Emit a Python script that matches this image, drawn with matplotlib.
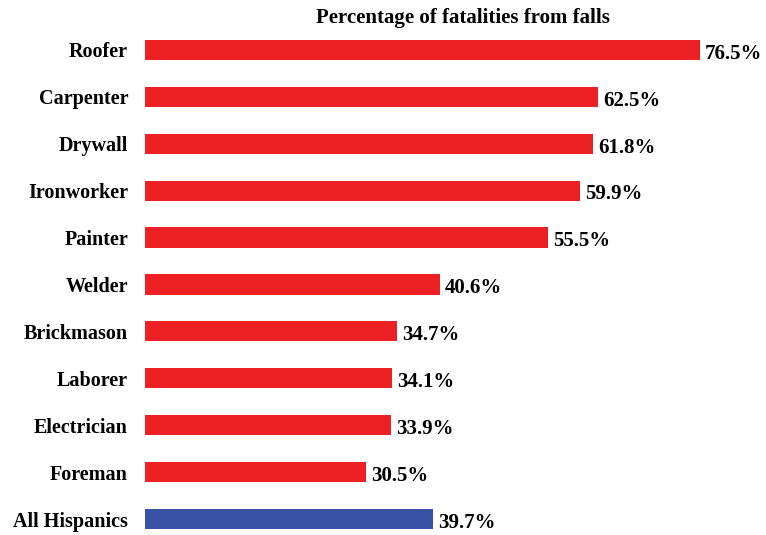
import matplotlib.pyplot as plt

# Data
occupations = ["Roofer", "Carpenter", "Drywall", "Ironworker", "Painter", "Welder",
               "Brickmason", "Laborer", "Electrician", "Foreman", "All Hispanics"]
pct_falls = [76.5, 62.5, 61.8, 59.9, 55.5, 40.6, 34.7, 34.1, 33.9, 30.5, 39.7]
bar_colors = ["#ED2024"] * 10 + ["#3953A4"]

plt.rcParams['font.family'] = ['Liberation Serif', 'DejaVu Serif']
plt.rcParams['font.weight'] = 'bold'

fig = plt.figure(figsize=(7.66, 5.35), dpi=100)
# axes: x from 145px to 760px, y from 26px to bottom
ax = fig.add_axes([145 / 766, 0.0, 615 / 766, 1 - 26 / 535])

ypos = list(range(len(occupations)))
ax.barh(ypos, pct_falls, height=0.43, color=bar_colors)
ax.set_xlim(0, 615 / 7.255)
ax.set_ylim(10.34, -0.51)

for y, v in zip(ypos, pct_falls):
    ax.text(v + 0.7, y + 0.08, f"{v:.1f}%", va="center", ha="left",
            fontsize=15, fontweight="bold")

ax.set_yticks(ypos)
ax.set_yticklabels(occupations, fontsize=14.5, fontweight="bold")
ax.tick_params(axis="y", length=0, pad=12.2)
ax.set_xticks([])
for s in ax.spines.values():
    s.set_visible(False)

fig.text(463 / 766, 1 - 18 / 535, "Percentage of fatalities from falls",
         ha="center", va="center", fontsize=15, fontweight="bold")

fig.savefig("out.png", dpi=100)
